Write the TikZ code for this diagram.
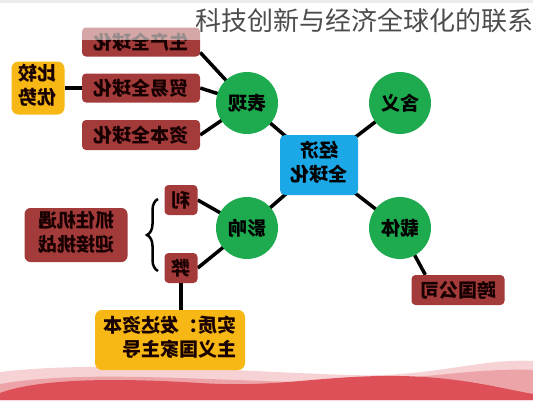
\documentclass[tikz,border=0pt]{standalone}
\usepackage{fontspec}
\usepackage{graphicx}
\setmainfont{Noto Sans CJK SC}
\usetikzlibrary{backgrounds,decorations.pathreplacing}

\definecolor{boxred}{HTML}{A33B3B}
\definecolor{leafgreen}{HTML}{1EAA4F}
\definecolor{corecyan}{HTML}{1CA7E6}
\definecolor{sunyellow}{HTML}{F7B714}
\definecolor{wavered}{HTML}{DD5058}
\definecolor{wavepink}{HTML}{EDA4A9}
\definecolor{wavelight}{HTML}{F6D2D4}

% mirrored labels, as in the picture
\newcommand{\mir}[1]{\reflectbox{#1}}
\newcommand{\twolines}[2]{\reflectbox{\begin{tabular}{@{}l@{}}#1\\#2\end{tabular}}}

\tikzset{
  boxtext/.style={font=\fontsize{19}{24}\selectfont\bfseries, text=black!90!red},
  redbox/.style={boxtext, fill=boxred, rounded corners=4pt, inner sep=0pt, minimum height=29},
  yellowbox/.style={boxtext, fill=sunyellow, rounded corners=7pt, inner sep=0pt},
  bubble/.style={boxtext, circle, fill=leafgreen, minimum size=62, inner sep=0pt, text=black},
  link/.style={line width=3.5pt, black},
}

\begin{document}
\begin{tikzpicture}[x=1pt, y=-1pt]
    \useasboundingbox (0,0) rectangle (533,400);

    % waves at the bottom
    \fill[wavelight] (0,372) .. controls (100,360) and (250,372) .. (350,375) .. controls (430,378) and (480,358) .. (533,361) -- (533,400) -- (0,400) -- cycle;
    \fill[wavepink] (0,384) .. controls (80,370) and (200,380) .. (300,382) .. controls (400,384) and (470,367) .. (533,370) -- (533,400) -- (0,400) -- cycle;
    \fill[wavered] (0,393) .. controls (40,378) and (120,378) .. (200,383) .. controls (280,388) and (320,375) .. (400,376) .. controls (460,377) and (500,388) .. (533,394) -- (533,400) -- (0,400) -- cycle;

    \node[yellowbox, minimum width=53, minimum height=53] (bijiao) at (38,88) {\twolines{比较}{优势}};
    \node[redbox, minimum width=118] (shengchan) at (141,42) {\mir{生产全球化}};
    \node[redbox, minimum width=118] (maoyi) at (141,88) {\mir{贸易全球化}};
    \node[redbox, minimum width=118, minimum height=30] (ziben) at (141,135) {\mir{资本全球化}};

    \node[bubble] (biaoxian) at (247,103) {\mir{表现}};
    \node[bubble] (hanyi) at (400,103) {\mir{含义}};
    \node[boxtext, fill=corecyan, rounded corners=5pt, minimum width=78, minimum height=60, inner sep=0pt, text=black] (jingji) at (319,165) {\reflectbox{\begin{tabular}{@{}c@{}}经济\\全球化\end{tabular}}};
    \node[bubble] (yingxiang) at (247,228) {\mir{影响}};
    \node[bubble] (zaiti) at (400,228) {\mir{载体}};

    \node[redbox, minimum width=33, minimum height=30] (li) at (181,200) {\mir{利}};
    \node[redbox, minimum width=33, minimum height=30] (bi) at (181,268) {\mir{弊}};
    \node[redbox, rounded corners=6pt, minimum width=103, minimum height=54] (zhuazhu) at (76,235) {\twolines{抓住机遇}{迎接挑战}};
    \node[yellowbox, minimum width=150, minimum height=60] (shizhi) at (170,340) {\twolines{实质：发达资本}{主义国家主导}};
    \node[redbox, minimum width=93, minimum height=30] (kuaguo) at (458,290) {\mir{跨国公司}};

    \begin{scope}[on background layer]
        \draw[link] (shengchan.-10) -- (biaoxian.center);
        \draw[link] (maoyi.east) -- (biaoxian.center);
        \draw[link] (ziben.east) -- (biaoxian.center);
        \draw[link] (bijiao.east) -- (maoyi.west);
        \draw[link] (biaoxian.center) -- (jingji.center);
        \draw[link] (hanyi.center) -- (jingji.center);
        \draw[link] (jingji.center) -- (yingxiang.center);
        \draw[link] (jingji.center) -- (zaiti.center);
        \draw[link] (li.east) -- (yingxiang.center);
        \draw[link] (bi.east) -- (yingxiang.center);
        \draw[link] (bi.south) -- (bi.south |- shizhi.north);
        \draw[link] (zaiti.center) -- ([xshift=14pt]kuaguo.north west);
    \end{scope}

    \draw[line width=2.5pt, decorate, decoration={brace, amplitude=11pt}] (158,271) -- (158,199);

    % faded band behind the title
    \fill[white, opacity=0.55] (0,0) rectangle (533,40);
    \fill[black!8] (0,0) rectangle (533,3);
    \node[font=\fontsize{26}{30}\selectfont, text=black!70, inner sep=0pt] (title) at (364,21) {科技创新与经济全球化的联系};

\end{tikzpicture}
\end{document}
